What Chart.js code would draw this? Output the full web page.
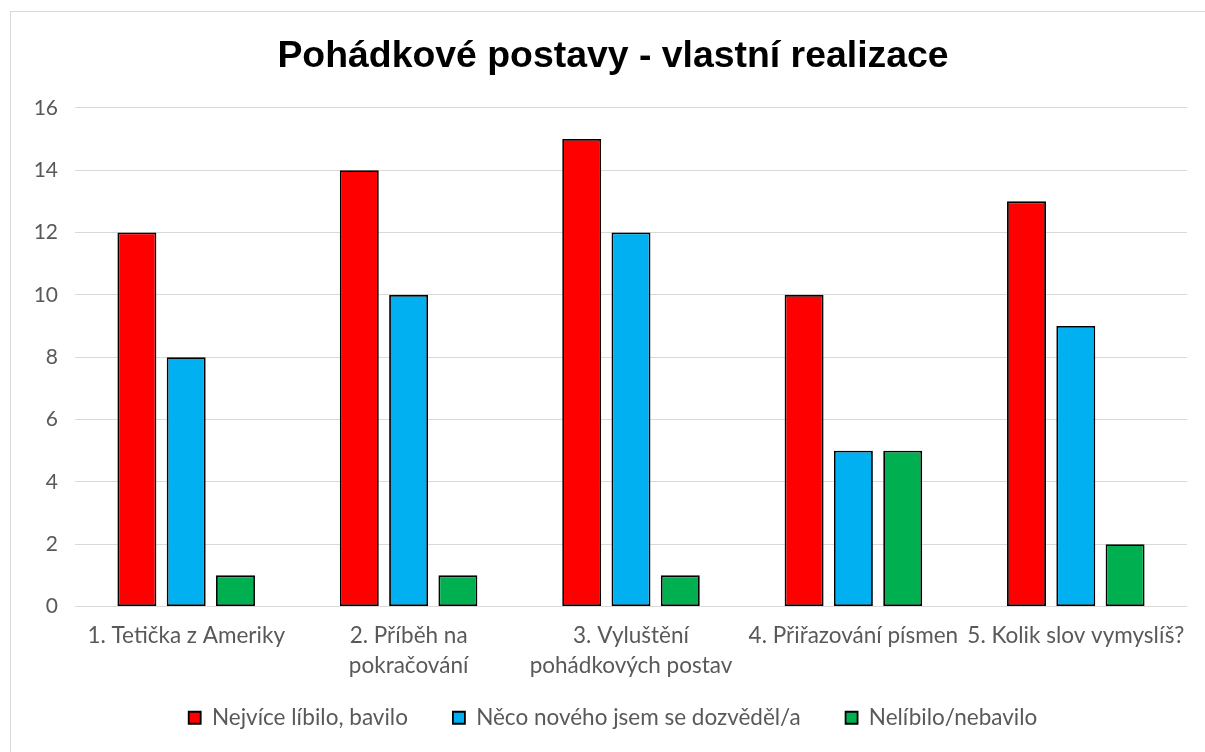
<!DOCTYPE html>
<html>
<head>
<meta charset="utf-8">
<script src="https://cdn.jsdelivr.net/npm/chart.js@4/dist/chart.umd.min.js"></script>
<style>
  html, body { margin: 0; padding: 0; background: #fff; }
  #frame { position: absolute; left: 10px; top: 11px; width: 1210px; height: 760px; border: 1px solid #d9d9d9; box-sizing: border-box; }
  #wrap { position: absolute; left: 0; top: 0; width: 1205px; height: 752px; }
</style>
</head>
<body>
<div id="frame"></div>
<div id="wrap"><canvas id="c" width="1205" height="752"></canvas></div>
<script>
const titleText = 'Pohádkové postavy - vlastní realizace';
const categories = [
  '1. Tetička z Ameriky',
  ['2. Příběh na', 'pokračování'],
  ['3. Vyluštění', 'pohádkových postav'],
  '4. Přiřazování písmen',
  '5. Kolik slov vymyslíš?'
];
const seriesNames = ['Nejvíce líbilo, bavilo', 'Něco nového jsem se dozvěděl/a', 'Nelíbilo/nebavilo'];
const likedValues = [12, 14, 15, 10, 13];
const learnedValues = [8, 10, 12, 5, 9];
const dislikedValues = [1, 1, 1, 5, 2];
const seriesColors = ['#FF0000', '#00B0F0', '#00B050'];
const yTicks = [0, 2, 4, 6, 8, 10, 12, 14, 16];

const font = 'Lato, "Open Sans", sans-serif';
const values = [likedValues, learnedValues, dislikedValues];

new Chart(document.getElementById('c'), {
  type: 'bar',
  data: {
    labels: categories,
    datasets: values.map((v, i) => ({
      label: seriesNames[i],
      data: v,
      backgroundColor: seriesColors[i],
      borderColor: '#000000',
      borderWidth: 1.8,
      borderSkipped: false,
      categoryPercentage: 0.665,
      barPercentage: 0.79
    }))
  },
  options: {
    responsive: false,
    animation: false,
    layout: { padding: { left: 39, right: 18, top: 0, bottom: 13 } },
    plugins: {
      title: {
        display: true,
        text: titleText,
        color: '#000000',
        font: { family: '"Liberation Sans", Arial, sans-serif', size: 37.4, weight: 'bold', lineHeight: 1.2 },
        padding: { top: 34, bottom: 29 }
      },
      legend: {
        position: 'bottom',
        labels: {
          color: '#595959',
          font: { family: font, size: 22.5 },
          boxWidth: 12,
          boxHeight: 12,
          padding: 45
        }
      },
      tooltip: { enabled: false }
    },
    scales: {
      x: {
        grid: { display: false, drawTicks: false },
        border: { display: false },
        ticks: {
          color: '#595959',
          font: { family: font, size: 22.5, lineHeight: 1.3 },
          padding: 15,
          maxRotation: 0,
          autoSkip: false
        },
        afterFit: s => { s.height = 55; s._computeLabelArea = () => undefined; }
      },
      y: {
        min: 0,
        max: 16,
        afterBuildTicks: s => { s.ticks = yTicks.map(v => ({ value: v })); },
        grid: { color: '#d9d9d9', lineWidth: 1, drawTicks: false },
        border: { display: false },
        ticks: {
          color: '#595959',
          font: { family: font, size: 21 },
          padding: 17
        },
        afterFit: s => { s.width = 36; s._computeLabelArea = () => undefined; }
      }
    }
  }
});
</script>
</body>
</html>
